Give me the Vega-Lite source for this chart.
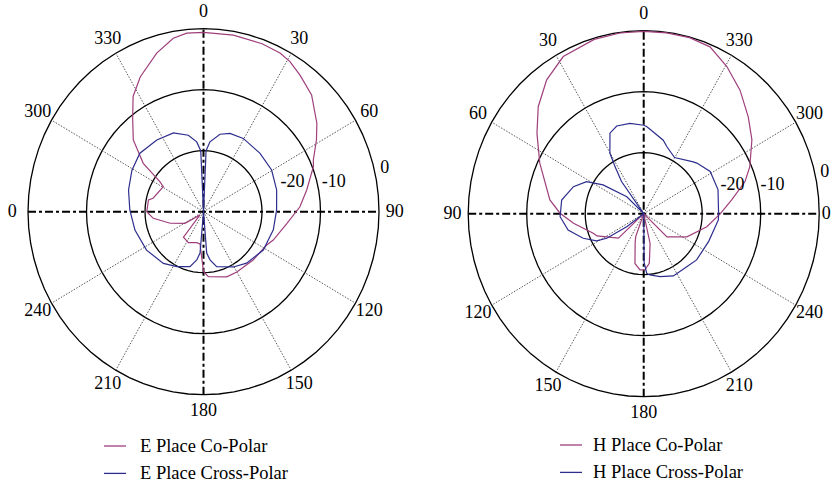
{
  "$schema": "https://vega.github.io/schema/vega-lite/v6.json",
  "background": "white",
  "padding": 0,
  "spacing": 0,
  "config": {
    "view": {"stroke": null},
    "font": "Liberation Serif",
    "text": {"font": "Liberation Serif", "fontSize": 18, "color": "black"}
  },
  "datasets": {
    "e_plane": [
      {"series": "E Place Co-Polar", "a": 0, "db": -0.6},
      {"series": "E Place Co-Polar", "a": 10, "db": -0.6},
      {"series": "E Place Co-Polar", "a": 20, "db": -0.7},
      {"series": "E Place Co-Polar", "a": 26.7, "db": -0.9},
      {"series": "E Place Co-Polar", "a": 31, "db": -1.3},
      {"series": "E Place Co-Polar", "a": 36.4, "db": -2.2},
      {"series": "E Place Co-Polar", "a": 44, "db": -3.4},
      {"series": "E Place Co-Polar", "a": 53.2, "db": -5.8},
      {"series": "E Place Co-Polar", "a": 58.7, "db": -7.4},
      {"series": "E Place Co-Polar", "a": 65.7, "db": -9.4},
      {"series": "E Place Co-Polar", "a": 68.5, "db": -9.8},
      {"series": "E Place Co-Polar", "a": 78.6, "db": -12},
      {"series": "E Place Co-Polar", "a": 87.2, "db": -13.5},
      {"series": "E Place Co-Polar", "a": 97.6, "db": -15.6},
      {"series": "E Place Co-Polar", "a": 111.3, "db": -17.2},
      {"series": "E Place Co-Polar", "a": 116.8, "db": -17.9},
      {"series": "E Place Co-Polar", "a": 133, "db": -18.4},
      {"series": "E Place Co-Polar", "a": 150, "db": -18.6},
      {"series": "E Place Co-Polar", "a": 159.6, "db": -18.6},
      {"series": "E Place Co-Polar", "a": 175.6, "db": -19.3},
      {"series": "E Place Co-Polar", "a": 180, "db": -20.2},
      {"series": "E Place Co-Polar", "a": 186.5, "db": -24.7},
      {"series": "E Place Co-Polar", "a": 192.9, "db": -24.8},
      {"series": "E Place Co-Polar", "a": 207, "db": -24.3},
      {"series": "E Place Co-Polar", "a": 219.4, "db": -24.6},
      {"series": "E Place Co-Polar", "a": 228, "db": -29.2},
      {"series": "E Place Co-Polar", "a": 239, "db": -26.3},
      {"series": "E Place Co-Polar", "a": 251.6, "db": -24},
      {"series": "E Place Co-Polar", "a": 262.8, "db": -21.35},
      {"series": "E Place Co-Polar", "a": 270, "db": -20.3},
      {"series": "E Place Co-Polar", "a": 281.5, "db": -20.4},
      {"series": "E Place Co-Polar", "a": 284.4, "db": -21.1},
      {"series": "E Place Co-Polar", "a": 300.8, "db": -22},
      {"series": "E Place Co-Polar", "a": 303.5, "db": -21},
      {"series": "E Place Co-Polar", "a": 307.6, "db": -17},
      {"series": "E Place Co-Polar", "a": 314.4, "db": -13.2},
      {"series": "E Place Co-Polar", "a": 321.6, "db": -10.5},
      {"series": "E Place Co-Polar", "a": 327.5, "db": -7.6},
      {"series": "E Place Co-Polar", "a": 333.9, "db": -5.4},
      {"series": "E Place Co-Polar", "a": 342.9, "db": -2.8},
      {"series": "E Place Co-Polar", "a": 349.7, "db": -1.1},
      {"series": "E Place Co-Polar", "a": 354.4, "db": -0.6},
      {"series": "E Place Co-Polar", "a": 360, "db": -0.6},
      {"series": "E Place Cross-Polar", "a": 0, "db": -30},
      {"series": "E Place Cross-Polar", "a": 2.5, "db": -20},
      {"series": "E Place Cross-Polar", "a": 5.5, "db": -18.5},
      {"series": "E Place Cross-Polar", "a": 12.5, "db": -17},
      {"series": "E Place Cross-Polar", "a": 19.4, "db": -16.4},
      {"series": "E Place Cross-Polar", "a": 29.5, "db": -16.2},
      {"series": "E Place Cross-Polar", "a": 45.3, "db": -16.4},
      {"series": "E Place Cross-Polar", "a": 59.6, "db": -16.5},
      {"series": "E Place Cross-Polar", "a": 74.1, "db": -17},
      {"series": "E Place Cross-Polar", "a": 88.7, "db": -17.5},
      {"series": "E Place Cross-Polar", "a": 104, "db": -17.7},
      {"series": "E Place Cross-Polar", "a": 121.6, "db": -18},
      {"series": "E Place Cross-Polar", "a": 138.9, "db": -18.8},
      {"series": "E Place Cross-Polar", "a": 150.6, "db": -19.6},
      {"series": "E Place Cross-Polar", "a": 166, "db": -20.7},
      {"series": "E Place Cross-Polar", "a": 172, "db": -22},
      {"series": "E Place Cross-Polar", "a": 175.4, "db": -23.2},
      {"series": "E Place Cross-Polar", "a": 180, "db": -30},
      {"series": "E Place Cross-Polar", "a": 185, "db": -23.2},
      {"series": "E Place Cross-Polar", "a": 188.3, "db": -22},
      {"series": "E Place Cross-Polar", "a": 194.4, "db": -20.7},
      {"series": "E Place Cross-Polar", "a": 206.9, "db": -19.9},
      {"series": "E Place Cross-Polar", "a": 219, "db": -19.1},
      {"series": "E Place Cross-Polar", "a": 237.1, "db": -18.4},
      {"series": "E Place Cross-Polar", "a": 255.6, "db": -17.9},
      {"series": "E Place Cross-Polar", "a": 271.3, "db": -17.4},
      {"series": "E Place Cross-Polar", "a": 285.5, "db": -16.7},
      {"series": "E Place Cross-Polar", "a": 299.1, "db": -16},
      {"series": "E Place Cross-Polar", "a": 311.4, "db": -15.5},
      {"series": "E Place Cross-Polar", "a": 325.8, "db": -15.8},
      {"series": "E Place Cross-Polar", "a": 338.3, "db": -16.1},
      {"series": "E Place Cross-Polar", "a": 348.3, "db": -17.2},
      {"series": "E Place Cross-Polar", "a": 354.2, "db": -18.5},
      {"series": "E Place Cross-Polar", "a": 357.3, "db": -20},
      {"series": "E Place Cross-Polar", "a": 360, "db": -30}
    ],
    "h_plane": [
      {"series": "H Place Co-Polar", "a": 0, "db": -0.1},
      {"series": "H Place Co-Polar", "a": 7.8, "db": -0.1},
      {"series": "H Place Co-Polar", "a": 16.5, "db": -0.2},
      {"series": "H Place Co-Polar", "a": 28.1, "db": -0.8},
      {"series": "H Place Co-Polar", "a": 37.1, "db": -2.5},
      {"series": "H Place Co-Polar", "a": 45.8, "db": -4.85},
      {"series": "H Place Co-Polar", "a": 54.2, "db": -7.5},
      {"series": "H Place Co-Polar", "a": 65, "db": -10.4},
      {"series": "H Place Co-Polar", "a": 82, "db": -13.8},
      {"series": "H Place Co-Polar", "a": 89.7, "db": -15.7},
      {"series": "H Place Co-Polar", "a": 97.4, "db": -17.9},
      {"series": "H Place Co-Polar", "a": 110.4, "db": -20.8},
      {"series": "H Place Co-Polar", "a": 114.5, "db": -21.2},
      {"series": "H Place Co-Polar", "a": 132.9, "db": -24.1},
      {"series": "H Place Co-Polar", "a": 147, "db": -30},
      {"series": "H Place Co-Polar", "a": 160, "db": -26},
      {"series": "H Place Co-Polar", "a": 163, "db": -25},
      {"series": "H Place Co-Polar", "a": 169.6, "db": -21.7},
      {"series": "H Place Co-Polar", "a": 176, "db": -20.75},
      {"series": "H Place Co-Polar", "a": 181.4, "db": -20.8},
      {"series": "H Place Co-Polar", "a": 186.7, "db": -21.8},
      {"series": "H Place Co-Polar", "a": 192.6, "db": -25},
      {"series": "H Place Co-Polar", "a": 203, "db": -30},
      {"series": "H Place Co-Polar", "a": 226.2, "db": -24.5},
      {"series": "H Place Co-Polar", "a": 242.8, "db": -21.7},
      {"series": "H Place Co-Polar", "a": 258.8, "db": -19},
      {"series": "H Place Co-Polar", "a": 270, "db": -16.9},
      {"series": "H Place Co-Polar", "a": 278.5, "db": -14.8},
      {"series": "H Place Co-Polar", "a": 286.9, "db": -11.9},
      {"series": "H Place Co-Polar", "a": 293, "db": -10.3},
      {"series": "H Place Co-Polar", "a": 303.2, "db": -7.9},
      {"series": "H Place Co-Polar", "a": 311.6, "db": -6.1},
      {"series": "H Place Co-Polar", "a": 320.9, "db": -3.9},
      {"series": "H Place Co-Polar", "a": 329.5, "db": -2},
      {"series": "H Place Co-Polar", "a": 337.5, "db": -0.4},
      {"series": "H Place Co-Polar", "a": 344.8, "db": -0.1},
      {"series": "H Place Co-Polar", "a": 352.5, "db": -0.1},
      {"series": "H Place Co-Polar", "a": 360, "db": -0.1},
      {"series": "H Place Cross-Polar", "a": 0, "db": -15.5},
      {"series": "H Place Cross-Polar", "a": 9, "db": -15},
      {"series": "H Place Cross-Polar", "a": 17.8, "db": -14.9},
      {"series": "H Place Cross-Polar", "a": 23.6, "db": -15.6},
      {"series": "H Place Cross-Polar", "a": 30.2, "db": -18.5},
      {"series": "H Place Cross-Polar", "a": 32.5, "db": -20.9},
      {"series": "H Place Cross-Polar", "a": 35.7, "db": -23.5},
      {"series": "H Place Cross-Polar", "a": 38, "db": -30},
      {"series": "H Place Cross-Polar", "a": 46.2, "db": -26},
      {"series": "H Place Cross-Polar", "a": 55.8, "db": -21.6},
      {"series": "H Place Cross-Polar", "a": 61.7, "db": -18.9},
      {"series": "H Place Cross-Polar", "a": 69.8, "db": -17.2},
      {"series": "H Place Cross-Polar", "a": 80.9, "db": -15.8},
      {"series": "H Place Cross-Polar", "a": 92, "db": -15.7},
      {"series": "H Place Cross-Polar", "a": 101.7, "db": -16.8},
      {"series": "H Place Cross-Polar", "a": 111.3, "db": -18.9},
      {"series": "H Place Cross-Polar", "a": 118.9, "db": -20.8},
      {"series": "H Place Cross-Polar", "a": 122.5, "db": -22.5},
      {"series": "H Place Cross-Polar", "a": 126.2, "db": -26.4},
      {"series": "H Place Cross-Polar", "a": 130, "db": -30},
      {"series": "H Place Cross-Polar", "a": 178, "db": -30},
      {"series": "H Place Cross-Polar", "a": 180.5, "db": -22},
      {"series": "H Place Cross-Polar", "a": 183, "db": -20.2},
      {"series": "H Place Cross-Polar", "a": 186, "db": -19.9},
      {"series": "H Place Cross-Polar", "a": 195.1, "db": -19.3},
      {"series": "H Place Cross-Polar", "a": 206.4, "db": -18.6},
      {"series": "H Place Cross-Polar", "a": 220.2, "db": -18.6},
      {"series": "H Place Cross-Polar", "a": 230, "db": -18.2},
      {"series": "H Place Cross-Polar", "a": 248, "db": -18},
      {"series": "H Place Cross-Polar", "a": 265.4, "db": -17.2},
      {"series": "H Place Cross-Polar", "a": 270, "db": -17.2},
      {"series": "H Place Cross-Polar", "a": 287.3, "db": -16.7},
      {"series": "H Place Cross-Polar", "a": 301.3, "db": -16.7},
      {"series": "H Place Cross-Polar", "a": 312.4, "db": -17.7},
      {"series": "H Place Cross-Polar", "a": 315.1, "db": -18},
      {"series": "H Place Cross-Polar", "a": 330.2, "db": -19.4},
      {"series": "H Place Cross-Polar", "a": 340.3, "db": -18.3},
      {"series": "H Place Cross-Polar", "a": 344.5, "db": -17.5},
      {"series": "H Place Cross-Polar", "a": 353, "db": -16.5},
      {"series": "H Place Cross-Polar", "a": 358, "db": -15.7},
      {"series": "H Place Cross-Polar", "a": 360, "db": -15.5}
    ],
    "ring_angles": [
      {"a": 0}, {"a": 5}, {"a": 10}, {"a": 15}, {"a": 20}, {"a": 25}, {"a": 30}, {"a": 35}, {"a": 40}, {"a": 45},
      {"a": 50}, {"a": 55}, {"a": 60}, {"a": 65}, {"a": 70}, {"a": 75}, {"a": 80}, {"a": 85}, {"a": 90}, {"a": 95},
      {"a": 100}, {"a": 105}, {"a": 110}, {"a": 115}, {"a": 120}, {"a": 125}, {"a": 130}, {"a": 135}, {"a": 140}, {"a": 145},
      {"a": 150}, {"a": 155}, {"a": 160}, {"a": 165}, {"a": 170}, {"a": 175}, {"a": 180}, {"a": 185}, {"a": 190}, {"a": 195},
      {"a": 200}, {"a": 205}, {"a": 210}, {"a": 215}, {"a": 220}, {"a": 225}, {"a": 230}, {"a": 235}, {"a": 240}, {"a": 245},
      {"a": 250}, {"a": 255}, {"a": 260}, {"a": 265}, {"a": 270}, {"a": 275}, {"a": 280}, {"a": 285}, {"a": 290}, {"a": 295},
      {"a": 300}, {"a": 305}, {"a": 310}, {"a": 315}, {"a": 320}, {"a": 325}, {"a": 330}, {"a": 335}, {"a": 340}, {"a": 345},
      {"a": 350}, {"a": 355}, {"a": 360}
    ],
    "spokes": [
      {"a": 30}, {"a": 60}, {"a": 120}, {"a": 150}, {"a": 210}, {"a": 240}, {"a": 300}, {"a": 330}
    ],
    "main_axes": [{"a": 0}, {"a": 90}],
    "angle_labels": [
      {"a": 0, "label": "0"}, {"a": 30, "label": "30"}, {"a": 60, "label": "60"}, {"a": 90, "label": "90"},
      {"a": 120, "label": "120"}, {"a": 150, "label": "150"}, {"a": 180, "label": "180"}, {"a": 210, "label": "210"},
      {"a": 240, "label": "240"}, {"a": 270, "label": "0"}, {"a": 300, "label": "300"}, {"a": 330, "label": "330"}
    ],
    "e_level_labels": [
      {"label": "-20", "a": 72, "r": 16},
      {"label": "-10", "a": 77.5, "r": 22.8},
      {"label": "0", "a": 77, "r": 31.8}
    ],
    "h_level_labels": [
      {"label": "-20", "a": 287.2, "r": 15.9},
      {"label": "-10", "a": 282, "r": 22.5},
      {"label": "0", "a": 282.5, "r": 31.7}
    ]
  },
  "hconcat": [
    {
      "width": 420,
      "height": 485,
      "encoding": {
        "x": {"field": "px", "type": "quantitative", "axis": null, "scale": {"domain": [-34.79, 37.01], "nice": false, "zero": false}},
        "y": {"field": "py", "type": "quantitative", "axis": null, "scale": {"domain": [-44.8, 34.7], "nice": false, "zero": false}}
      },
      "layer": [
        {
          "data": {"name": "ring_angles"},
          "transform": [
            {"calculate": "[-20, -10, 0]", "as": "level"},
            {"flatten": ["level"]},
            {"calculate": "(datum.level + 30) * sin(datum.a * PI / 180)", "as": "px"},
            {"calculate": "(datum.level + 30) * cos(datum.a * PI / 180)", "as": "py"}
          ],
          "mark": {"type": "line", "color": "black", "strokeWidth": 1.3},
          "encoding": {"detail": {"field": "level"}, "order": {"field": "a", "type": "quantitative"}}
        },
        {
          "data": {"name": "spokes"},
          "transform": [
            {"calculate": "0", "as": "px"},
            {"calculate": "0", "as": "py"},
            {"calculate": "30 * sin(datum.a * PI / 180)", "as": "px2"},
            {"calculate": "30 * cos(datum.a * PI / 180)", "as": "py2"}
          ],
          "mark": {"type": "rule", "color": "#444", "strokeWidth": 0.9, "strokeDash": [1.5, 1.5]},
          "encoding": {"x2": {"field": "px2"}, "y2": {"field": "py2"}}
        },
        {
          "data": {"name": "main_axes"},
          "transform": [
            {"calculate": "-30 * sin(datum.a * PI / 180)", "as": "px"},
            {"calculate": "-30 * cos(datum.a * PI / 180)", "as": "py"},
            {"calculate": "30 * sin(datum.a * PI / 180)", "as": "px2"},
            {"calculate": "30 * cos(datum.a * PI / 180)", "as": "py2"}
          ],
          "mark": {"type": "rule", "color": "black", "strokeWidth": 2, "strokeDash": [8, 3, 3, 3]},
          "encoding": {"x2": {"field": "px2"}, "y2": {"field": "py2"}}
        },
        {
          "data": {"name": "e_plane"},
          "transform": [
            {"calculate": "(datum.db + 30) * sin(datum.a * PI / 180)", "as": "px"},
            {"calculate": "(datum.db + 30) * cos(datum.a * PI / 180)", "as": "py"}
          ],
          "mark": {"type": "line", "strokeWidth": 1.2},
          "encoding": {
            "order": {"field": "a", "type": "quantitative"},
            "color": {
              "field": "series", "type": "nominal",
              "scale": {"domain": ["E Place Co-Polar", "E Place Cross-Polar"], "range": ["#9e3f7c", "#2d2d8e"]},
              "legend": {
                "orient": "none", "legendX": 103, "legendY": 434, "title": null, "padding": 0,
                "symbolType": "stroke", "symbolSize": 484, "symbolStrokeWidth": 1.3,
                "labelFont": "Liberation Serif", "labelFontSize": 18.5, "labelColor": "black",
                "labelOffset": 13, "rowPadding": 5.4, "labelLimit": 0
              }
            }
          }
        },
        {
          "data": {"name": "angle_labels"},
          "transform": [
            {"calculate": "32.7 * sin(datum.a * PI / 180)", "as": "px"},
            {"calculate": "32.7 * cos(datum.a * PI / 180)", "as": "py"}
          ],
          "mark": {"type": "text", "align": "center", "baseline": "middle", "font": "Liberation Serif", "fontSize": 18},
          "encoding": {"text": {"field": "label"}}
        },
        {
          "data": {"name": "e_level_labels"},
          "transform": [
            {"calculate": "datum.r * sin(datum.a * PI / 180)", "as": "px"},
            {"calculate": "datum.r * cos(datum.a * PI / 180)", "as": "py"}
          ],
          "mark": {"type": "text", "align": "center", "baseline": "middle", "font": "Liberation Serif", "fontSize": 18},
          "encoding": {"text": {"field": "label"}}
        }
      ]
    },
    {
      "width": 417,
      "height": 485,
      "encoding": {
        "x": {"field": "px", "type": "quantitative", "axis": null, "scale": {"domain": [-38.24, 33.04], "nice": false, "zero": false}},
        "y": {"field": "py", "type": "quantitative", "axis": null, "scale": {"domain": [-44.48, 35.03], "nice": false, "zero": false}}
      },
      "layer": [
        {
          "data": {"name": "ring_angles"},
          "transform": [
            {"calculate": "[-20, -10, 0]", "as": "level"},
            {"flatten": ["level"]},
            {"calculate": "-(datum.level + 30) * sin(datum.a * PI / 180)", "as": "px"},
            {"calculate": "(datum.level + 30) * cos(datum.a * PI / 180)", "as": "py"}
          ],
          "mark": {"type": "line", "color": "black", "strokeWidth": 1.3},
          "encoding": {"detail": {"field": "level"}, "order": {"field": "a", "type": "quantitative"}}
        },
        {
          "data": {"name": "spokes"},
          "transform": [
            {"calculate": "0", "as": "px"},
            {"calculate": "0", "as": "py"},
            {"calculate": "-30 * sin(datum.a * PI / 180)", "as": "px2"},
            {"calculate": "30 * cos(datum.a * PI / 180)", "as": "py2"}
          ],
          "mark": {"type": "rule", "color": "#444", "strokeWidth": 0.9, "strokeDash": [1.5, 1.5]},
          "encoding": {"x2": {"field": "px2"}, "y2": {"field": "py2"}}
        },
        {
          "data": {"name": "main_axes"},
          "transform": [
            {"calculate": "-30 * sin(datum.a * PI / 180)", "as": "px"},
            {"calculate": "-30 * cos(datum.a * PI / 180)", "as": "py"},
            {"calculate": "30 * sin(datum.a * PI / 180)", "as": "px2"},
            {"calculate": "30 * cos(datum.a * PI / 180)", "as": "py2"}
          ],
          "mark": {"type": "rule", "color": "black", "strokeWidth": 2, "strokeDash": [8, 3, 3, 3]},
          "encoding": {"x2": {"field": "px2"}, "y2": {"field": "py2"}}
        },
        {
          "data": {"name": "h_plane"},
          "transform": [
            {"calculate": "-(datum.db + 30) * sin(datum.a * PI / 180)", "as": "px"},
            {"calculate": "(datum.db + 30) * cos(datum.a * PI / 180)", "as": "py"}
          ],
          "mark": {"type": "line", "strokeWidth": 1.2},
          "encoding": {
            "order": {"field": "a", "type": "quantitative"},
            "color": {
              "field": "series", "type": "nominal",
              "scale": {"domain": ["H Place Co-Polar", "H Place Cross-Polar"], "range": ["#9e3f7c", "#2d2d8e"]},
              "legend": {
                "orient": "none", "legendX": 139, "legendY": 433, "title": null, "padding": 0,
                "symbolType": "stroke", "symbolSize": 484, "symbolStrokeWidth": 1.3,
                "labelFont": "Liberation Serif", "labelFontSize": 18.5, "labelColor": "black",
                "labelOffset": 10, "rowPadding": 5.4, "labelLimit": 0
              }
            }
          }
        },
        {
          "data": {"name": "angle_labels"},
          "transform": [
            {"calculate": "datum.a == 270 ? 31.2 : 32.7", "as": "lr"},
            {"calculate": "-datum.lr * sin(datum.a * PI / 180)", "as": "px"},
            {"calculate": "datum.lr * cos(datum.a * PI / 180)", "as": "py"}
          ],
          "mark": {"type": "text", "align": "center", "baseline": "middle", "font": "Liberation Serif", "fontSize": 18},
          "encoding": {"text": {"field": "label"}}
        },
        {
          "data": {"name": "h_level_labels"},
          "transform": [
            {"calculate": "-datum.r * sin(datum.a * PI / 180)", "as": "px"},
            {"calculate": "datum.r * cos(datum.a * PI / 180)", "as": "py"}
          ],
          "mark": {"type": "text", "align": "center", "baseline": "middle", "font": "Liberation Serif", "fontSize": 18},
          "encoding": {"text": {"field": "label"}}
        }
      ]
    }
  ],
  "resolve": {
    "scale": {"x": "independent", "y": "independent", "color": "independent"},
    "legend": {"color": "independent"}
  }
}
